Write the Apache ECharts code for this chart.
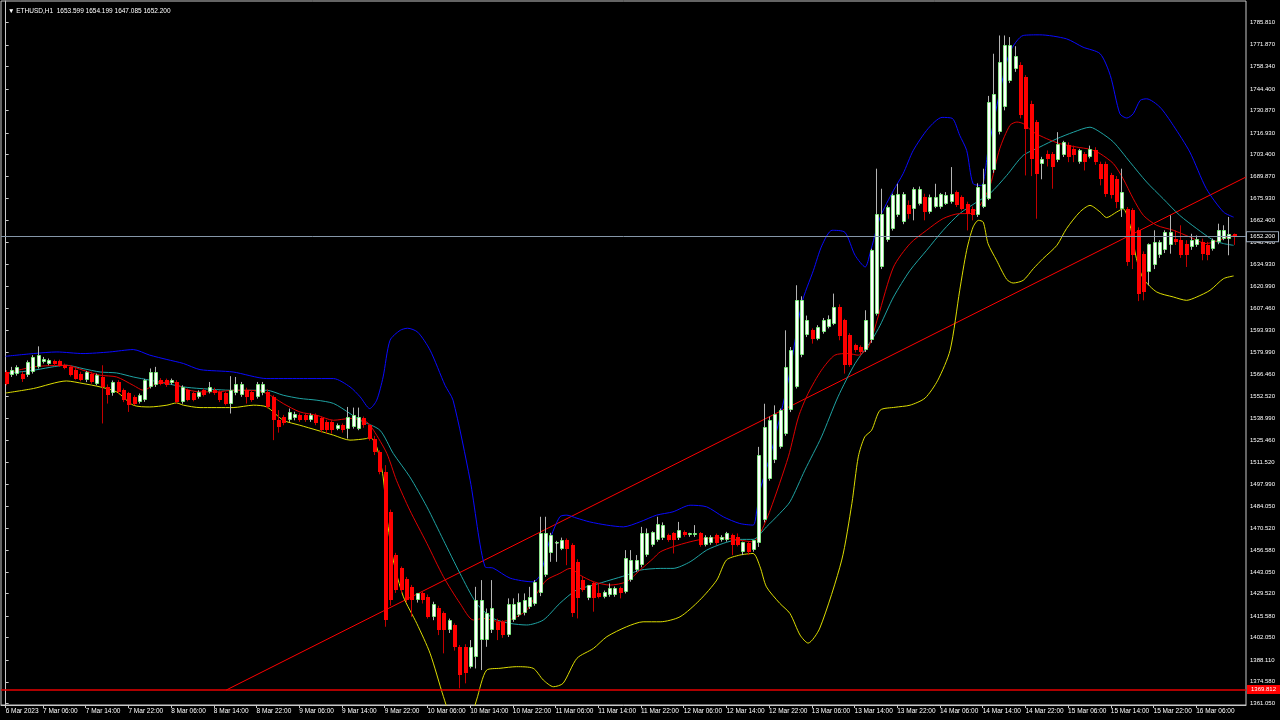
<!DOCTYPE html>
<html>
<head>
<meta charset="utf-8">
<script src="https://cdn.jsdelivr.net/npm/echarts@6/dist/echarts.min.js"></script>
<style>
html,body{margin:0;padding:0;background:#000;}
#chart{width:1280px;height:720px;}
</style>
</head>
<body>
<div id="chart"></div>
<script>
// ---------- DATA ----------
const titleText = '\u25BC ETHUSD,H1  1653.599 1654.199 1647.085 1652.200';

const xTickIndex = [0,7,15,23,31,39,47,55,63,71,79,87,95,103,111,119,127,135,143,151,159,167,175,183,191,199,207,215,223];
const xTickLabels = ['6 Mar 2023','7 Mar 06:00','7 Mar 14:00','7 Mar 22:00','8 Mar 06:00','8 Mar 14:00','8 Mar 22:00',
  '9 Mar 06:00','9 Mar 14:00','9 Mar 22:00','10 Mar 06:00','10 Mar 14:00','10 Mar 22:00','11 Mar 06:00','11 Mar 14:00',
  '11 Mar 22:00','12 Mar 06:00','12 Mar 14:00','12 Mar 22:00','13 Mar 06:00','13 Mar 14:00','13 Mar 22:00','14 Mar 06:00',
  '14 Mar 14:00','14 Mar 22:00','15 Mar 06:00','15 Mar 14:00','15 Mar 22:00','16 Mar 06:00'];

const yTickValues = [1361.05,1374.58,1388.11,1402.05,1415.58,1429.52,1443.05,1456.58,1470.52,1484.05,1497.99,1511.52,
  1525.46,1538.99,1552.52,1566.46,1579.99,1593.93,1607.46,1620.99,1634.93,1648.46,1662.40,1675.93,1689.87,1703.40,
  1716.93,1730.87,1744.40,1758.34,1771.87,1785.81];

// hourly bars: [open, high, low, close]
const candles = [
[1567.9,1569.0,1559.5,1560.6],[1565.8,1571.0,1564.7,1568.9],[1566.8,1572.0,1565.5,1571.0],[1566.8,1568.0,1561.6,1563.7],
[1565.8,1575.0,1564.7,1574.1],[1567.9,1578.3,1566.8,1577.2],[1571.0,1583.8,1570.0,1578.3],[1574.1,1577.2,1573.1,1576.2],
[1573.1,1576.2,1572.0,1575.5],[1574.7,1575.5,1572.0,1572.6],[1574.7,1575.5,1571.0,1571.4],[1572.0,1573.0,1569.5,1570.0],
[1571.0,1572.0,1565.0,1565.8],[1569.3,1570.5,1563.0,1563.7],[1566.8,1568.0,1562.0,1562.7],[1562.7,1568.5,1561.5,1567.9],
[1566.8,1568.0,1560.5,1561.6],[1560.6,1566.8,1559.5,1565.8],[1564.7,1572.0,1535.7,1558.5],[1558.5,1560.0,1548.1,1553.3],
[1554.4,1562.5,1553.0,1561.6],[1561.6,1562.7,1554.0,1555.4],[1556.4,1557.5,1549.0,1550.2],[1554.4,1555.4,1542.9,1547.1],
[1552.3,1553.3,1547.0,1548.1],[1549.2,1554.4,1548.1,1553.3],[1550.2,1563.5,1549.2,1562.7],[1558.5,1570.0,1557.5,1567.9],
[1559.5,1571.0,1558.5,1567.9],[1562.7,1564.0,1559.5,1560.6],[1562.7,1563.7,1558.5,1559.5],[1561.0,1563.7,1560.0,1562.7],
[1561.6,1562.7,1548.1,1549.2],[1549.2,1559.5,1548.0,1558.5],[1556.4,1557.5,1549.5,1550.2],[1554.4,1555.4,1549.5,1550.2],
[1552.3,1556.4,1551.2,1555.4],[1556.4,1557.5,1552.5,1553.3],[1555.4,1561.6,1554.4,1558.5],[1556.4,1558.0,1553.5,1554.4],
[1555.4,1556.4,1549.0,1550.2],[1554.4,1555.4,1547.0,1548.1],[1548.1,1565.2,1541.9,1556.4],[1554.4,1564.7,1553.3,1560.6],
[1553.3,1561.6,1552.3,1560.6],[1556.4,1558.0,1548.1,1552.3],[1555.4,1556.4,1549.2,1550.2],[1552.3,1561.6,1551.2,1560.6],
[1554.4,1561.6,1553.3,1560.6],[1555.4,1557.0,1545.0,1546.0],[1552.3,1553.3,1525.3,1537.7],[1537.7,1544.0,1530.0,1533.6],
[1539.8,1541.0,1534.6,1535.7],[1537.7,1545.0,1536.7,1542.9],[1538.8,1543.0,1537.7,1541.9],[1540.9,1542.0,1536.7,1537.7],
[1540.9,1542.0,1536.7,1537.7],[1537.7,1542.0,1536.7,1540.9],[1540.9,1542.0,1534.6,1535.7],[1538.8,1540.0,1530.0,1531.5],
[1536.7,1538.0,1529.4,1531.5],[1536.7,1537.7,1529.4,1531.5],[1532.5,1535.7,1531.5,1534.6],[1534.6,1535.7,1530.0,1531.5],
[1532.5,1546.0,1526.3,1539.8],[1533.6,1545.6,1532.5,1540.9],[1532.5,1545.6,1531.5,1539.8],[1538.8,1540.0,1533.0,1534.6],
[1534.6,1535.5,1525.0,1526.3],[1526.3,1528.0,1516.0,1518.0],[1518.0,1519.0,1504.0,1505.5],[1505.5,1509.7,1408.9,1413.1],
[1480.6,1482.0,1422.0,1425.5],[1453.6,1455.0,1430.0,1431.8],[1445.3,1446.5,1429.7,1431.8],[1439.0,1440.0,1424.0,1425.5],
[1433.8,1435.0,1415.1,1425.5],[1425.5,1430.0,1424.0,1429.7],[1429.7,1431.0,1423.4,1425.5],[1427.6,1429.0,1414.0,1415.1],
[1415.1,1424.5,1413.0,1423.4],[1420.3,1422.0,1403.7,1406.8],[1417.2,1418.5,1392.3,1406.8],[1406.8,1414.0,1405.0,1413.1],
[1409.9,1411.0,1394.0,1396.4],[1396.4,1397.5,1370.5,1378.8],[1396.4,1398.0,1373.6,1379.8],[1384.0,1400.6,1382.9,1396.4],
[1390.2,1433.8,1382.9,1425.5],[1400.6,1438.0,1381.9,1425.5],[1400.6,1420.3,1396.4,1417.2],[1406.8,1438.0,1405.0,1420.3],
[1412.0,1414.0,1400.6,1406.8],[1412.0,1413.0,1402.0,1403.7],[1403.7,1426.6,1402.5,1423.4],[1413.1,1426.6,1412.0,1423.4],
[1416.2,1429.7,1415.0,1424.5],[1417.2,1429.7,1416.0,1425.5],[1421.4,1433.8,1420.0,1427.6],[1423.4,1438.0,1422.0,1437.0],
[1429.7,1477.5,1428.0,1467.1],[1441.1,1477.5,1440.0,1467.1],[1454.6,1467.5,1449.4,1466.0],[1460.9,1462.5,1449.4,1461.9],
[1457.7,1464.5,1456.7,1463.3],[1462.9,1464.0,1447.3,1457.7],[1459.8,1461.0,1415.0,1417.2],[1449.4,1451.0,1414.1,1426.6],
[1438.0,1440.0,1430.7,1431.8],[1426.6,1435.0,1425.5,1434.9],[1435.9,1437.0,1418.3,1426.6],[1429.7,1435.9,1426.6,1427.6],
[1427.6,1431.5,1426.6,1430.7],[1428.6,1435.9,1427.6,1432.8],[1428.6,1434.0,1427.6,1432.8],[1432.8,1434.0,1426.6,1429.7],
[1430.7,1456.7,1429.7,1451.5],[1438.0,1456.7,1437.0,1450.5],[1444.2,1453.6,1443.0,1450.5],[1447.3,1471.2,1446.0,1467.1],
[1453.6,1470.2,1452.5,1467.1],[1459.8,1468.5,1458.8,1468.1],[1462.9,1477.5,1461.9,1473.3],[1464.0,1474.0,1463.0,1472.5],
[1466.0,1467.0,1461.9,1462.9],[1467.1,1468.0,1454.6,1462.9],[1464.0,1474.3,1463.0,1469.2],[1468.1,1469.0,1465.0,1466.0],
[1466.0,1467.5,1465.0,1467.1],[1466.0,1472.3,1465.0,1467.1],[1467.1,1468.0,1458.8,1459.8],[1459.8,1466.0,1459.0,1465.0],
[1460.9,1466.0,1460.0,1465.0],[1466.0,1467.0,1460.0,1460.9],[1462.9,1466.0,1462.0,1465.0],[1462.9,1468.1,1462.0,1467.1],
[1466.0,1467.0,1453.6,1459.8],[1465.0,1467.1,1459.0,1459.8],[1455.7,1462.0,1453.6,1461.9],[1460.9,1462.0,1453.6,1455.7],
[1456.7,1463.0,1455.7,1462.9],[1460.9,1521.1,1458.7,1515.9],[1475.4,1548.0,1474.0,1533.5],[1501.3,1540.0,1500.0,1537.7],
[1512.8,1547.0,1511.0,1541.8],[1521.1,1545.0,1520.0,1543.9],[1529.4,1593.8,1528.0,1571.1],[1543.9,1583.4,1542.8,1581.3],
[1558.5,1621.9,1557.5,1612.5],[1578.2,1615.0,1577.0,1612.5],[1590.7,1603.0,1589.6,1600.0],[1593.8,1595.0,1585.5,1588.6],
[1588.6,1597.0,1587.6,1595.9],[1592.8,1601.5,1591.7,1600.0],[1595.9,1603.1,1595.0,1601.1],[1598.0,1616.7,1597.0,1608.3],
[1608.3,1610.0,1587.6,1590.0],[1600.0,1601.0,1566.8,1572.0],[1590.7,1592.0,1571.0,1572.0],[1584.4,1585.5,1580.0,1581.3],
[1583.4,1584.4,1578.0,1580.3],[1581.3,1606.3,1580.3,1600.0],[1587.6,1644.7,1586.0,1643.7],[1604.2,1694.6,1603.0,1666.5],
[1633.3,1682.1,1632.0,1666.5],[1649.9,1671.7,1649.0,1670.7],[1657.2,1679.0,1656.0,1678.0],[1665.5,1685.2,1664.5,1679.0],
[1661.3,1680.0,1660.0,1679.0],[1671.7,1674.8,1663.4,1666.5],[1669.6,1683.0,1662.4,1682.1],[1672.8,1683.5,1671.7,1682.1],
[1676.9,1679.0,1662.4,1667.6],[1667.6,1678.5,1666.5,1676.9],[1670.7,1685.2,1670.0,1676.9],[1670.7,1679.5,1669.6,1679.0],
[1672.8,1680.0,1672.0,1678.0],[1673.8,1695.6,1672.8,1679.0],[1680.0,1681.0,1670.7,1671.7],[1676.9,1678.0,1668.6,1669.6],
[1672.8,1674.0,1656.1,1666.5],[1669.6,1671.0,1662.4,1665.5],[1665.5,1685.5,1664.5,1683.1],[1670.7,1694.6,1670.0,1685.2],
[1676.0,1740.0,1675.0,1736.2],[1693.5,1766.3,1692.0,1741.3],[1717.4,1777.7,1716.0,1761.1],[1733.0,1777.7,1731.0,1771.5],
[1749.6,1776.7,1748.0,1771.5],[1756.9,1771.0,1755.0,1765.2],[1759.0,1761.0,1726.0,1727.8],[1751.8,1753.0,1690.4,1719.5],
[1735.1,1737.0,1690.0,1700.8],[1723.7,1725.0,1663.4,1691.5],[1697.7,1702.0,1688.0,1700.8],[1703.9,1706.0,1696.0,1700.8],
[1703.9,1705.0,1682.1,1695.6],[1699.8,1717.4,1698.7,1710.2],[1702.9,1712.0,1701.9,1711.2],[1709.1,1711.0,1698.7,1701.9],
[1707.0,1709.0,1698.7,1702.9],[1698.7,1707.0,1697.7,1706.0],[1703.9,1705.0,1693.5,1698.7],[1701.9,1709.0,1701.0,1707.0],
[1706.0,1708.0,1697.0,1698.7],[1697.7,1699.0,1684.2,1688.4],[1697.7,1699.0,1677.0,1679.0],[1690.4,1692.0,1676.0,1678.0],
[1688.4,1690.0,1670.0,1673.8],[1669.7,1694.6,1664.5,1680.1],[1669.7,1670.7,1634.0,1636.4],[1668.6,1670.0,1632.0,1640.6],
[1656.2,1658.0,1612.0,1616.7],[1641.6,1643.0,1612.5,1617.7],[1630.2,1648.0,1621.9,1647.8],[1634.4,1656.2,1632.0,1648.9],
[1640.6,1650.0,1639.0,1648.9],[1643.7,1656.2,1642.0,1655.1],[1646.8,1665.5,1641.6,1655.1],[1651.0,1656.0,1647.0,1648.9],
[1649.9,1659.3,1639.0,1640.6],[1647.8,1650.0,1633.3,1640.6],[1645.8,1654.0,1644.0,1649.9],[1646.8,1653.0,1645.8,1651.0],
[1648.9,1651.0,1637.5,1641.6],[1646.8,1649.0,1637.5,1640.6],[1644.7,1651.0,1643.5,1649.9],[1648.9,1660.3,1647.5,1656.2],
[1651.0,1659.3,1650.0,1656.2],[1651.0,1664.5,1640.6,1654.1],[1653.599,1654.199,1647.085,1652.2]
];

// indicator lines: [bar index, price]
const upperBand = [[0,1577.6],[5.2,1579.3],[9.6,1580.3],[14.5,1579.3],[19.5,1580.3],[23.9,1581.8],[27,1578.3],[30.2,1575.6],
[33.3,1573.1],[36.4,1569.3],[42.6,1567.8],[48.9,1563.7],[55.1,1563.7],[61.4,1563.7],[64.5,1558.5],[66.4,1552.3],[68.2,1545.0],
[69.5,1550.2],[70.7,1564.7],[72,1587.6],[73.9,1593.8],[75.3,1595.1],[77.2,1592.6],[79.5,1581.4],[82.3,1559.5],[83.8,1550.2],
[87,1500.3],[89.8,1446.3],[91.3,1445.5],[94.5,1439.2],[98.8,1436.9],[100.1,1441.1],[101.9,1462.9],[103.8,1477.5],[105.1,1478.5],
[107,1476.6],[109.4,1474.3],[112.6,1472.3],[115.7,1471.2],[118.8,1474.3],[121.9,1478.5],[125,1480.6],[128.2,1484.7],[131.3,1483.7],
[134.4,1477.5],[137.5,1473.3],[140,1472.3],[140.7,1481.6],[141.3,1494.1],[143.5,1519.0],[146.6,1562.7],[149.1,1610.5],[151.3,1631.2],
[152.9,1646.8],[154.8,1656.2],[157.2,1654.9],[159.1,1640.6],[161,1633.3],[161.9,1641.8],[163.8,1664.4],[166.3,1681.1],[168.1,1691.5],
[170,1706.0],[172.8,1719.7],[175.4,1726.6],[177.3,1726.0],[178.7,1715.4],[180,1706.0],[181.2,1685.3],[182.8,1684.2],[184,1706.0],
[186.2,1742.4],[188.1,1767.3],[190.6,1777.7],[193.7,1778.1],[198.7,1775.6],[201.8,1770.4],[205,1766.3],[206.9,1752.8],[208.7,1728.9],
[210,1726.2],[211.2,1728.9],[212.5,1737.2],[213.7,1738.2],[216.2,1733.0],[218.7,1721.6],[221.8,1705.0],[224.9,1682.1],[228.1,1667.6],
[230,1664.4]];

const middleBand = [[0,1566.8],[5.2,1568.9],[11.4,1572.0],[14.5,1569.9],[17.7,1567.8],[20.8,1567.2],[23.9,1564.7],[27,1562.7],
[30.2,1560.6],[33.3,1558.5],[36.4,1557.5],[42.6,1556.4],[48.9,1556.4],[52,1553.3],[55.1,1551.3],[58.3,1550.2],[61.4,1548.2],
[64.5,1541.9],[66.4,1537.7],[70.1,1531.5],[72.6,1517.0],[75.7,1502.4],[78.9,1483.7],[82,1462.9],[85.1,1442.2],[88.2,1423.5],
[91.3,1414.1],[94.5,1411.0],[97.6,1410.0],[100.7,1413.1],[103.8,1423.5],[106.9,1431.8],[110.1,1434.9],[113.2,1438.0],[116.3,1441.1],
[118.8,1444.2],[122.6,1445.3],[125,1445.3],[128.2,1449.4],[131.3,1456.7],[134.4,1460.9],[137.5,1463.4],[140,1463.4],[142.5,1471.2],
[145,1479.6],[146.9,1486.8],[149.7,1506.6],[152.8,1527.3],[155.9,1552.3],[159.1,1573.1],[162.2,1587.6],[163.8,1597.0],[166.3,1614.6],
[169.4,1631.2],[172.5,1643.7],[175.6,1656.2],[178.7,1666.6],[181.9,1673.8],[184.4,1679.2],[187.5,1690.4],[190.6,1702.9],[193.7,1708.1],
[196.9,1713.3],[200,1717.4],[203.1,1720.5],[205,1717.4],[207.5,1711.2],[210.6,1698.7],[213.7,1686.3],[216.8,1675.9],[219.9,1665.5],
[223.1,1657.2],[226.2,1650.0],[228.1,1647.9],[230,1646.8]];

const lowerBand = [[0,1554.7],[5.2,1557.5],[11.4,1562.2],[14.5,1560.6],[17.7,1558.5],[20.8,1555.4],[23.9,1547.1],[27,1546.0],
[30.2,1547.1],[32,1548.5],[33.3,1547.1],[36.4,1545.6],[42.6,1545.6],[46.4,1547.1],[48.9,1546.0],[52,1537.7],[55.1,1534.6],
[58.3,1531.5],[61.4,1528.4],[64.5,1525.3],[67.6,1526.3],[68.2,1527.3],[69.5,1521.1],[70.7,1502.4],[71.4,1477.5],[72.6,1450.5],
[74.5,1427.6],[77,1411.0],[79.5,1392.3],[82,1365.3],[84.2,1344.5],[86,1341.4],[88.2,1363.2],[90.1,1381.9],[92.6,1383.0],
[95.7,1384.0],[98.8,1383.0],[100.7,1375.7],[102.6,1371.5],[104.4,1373.6],[107,1389.2],[110.1,1395.4],[112.6,1402.7],[116.3,1408.9],
[119.4,1412.0],[122.6,1412.0],[126.3,1415.1],[130,1425.5],[133.2,1438.0],[135,1450.5],[137.5,1453.6],[140,1454.6],[141.3,1446.3],
[142.5,1433.8],[145,1423.5],[146.9,1417.2],[148.8,1403.7],[150.3,1398.7],[152.5,1408.1],[156.6,1450.5],[158.5,1485.8],[159.7,1514.9],
[160.9,1527.3],[162.2,1531.5],[163.8,1544.0],[166.6,1545.8],[169.4,1547.1],[172.2,1551.5],[174.6,1562.7],[176.9,1581.4],[178.7,1618.8],
[180,1643.7],[181.2,1658.2],[182.2,1662.4],[183.1,1661.3],[184,1647.9],[185.6,1637.5],[187.5,1625.6],[188.7,1623.3],[190.6,1625.0],
[192.5,1632.3],[194.3,1638.5],[196.9,1646.8],[198.7,1657.2],[201.2,1667.6],[203.1,1671.7],[205,1667.6],[206.2,1664.1],[208.1,1667.6],
[209.3,1669.7],[210.6,1659.3],[211.8,1638.5],[213.1,1626.0],[215.6,1617.7],[218.7,1614.6],[221.2,1612.5],[223.1,1614.6],[225.6,1618.8],
[228.1,1626.0],[230,1627.7]];

const fastMA = [[0,1566.8],[5.2,1571.0],[11.4,1572.0],[14.5,1568.9],[17.7,1565.8],[20.8,1564.7],[23.9,1559.5],[25.8,1556.4],
[28.3,1560.6],[31.4,1561.6],[33.3,1557.5],[36.4,1555.4],[39.5,1555.4],[42.6,1556.4],[45.8,1556.4],[48.9,1554.4],[52,1548.1],
[55.1,1542.9],[58.3,1540.8],[61.4,1537.7],[64.5,1538.8],[67.6,1536.7],[68.9,1531.5],[71.4,1517.0],[73.2,1500.3],[75.7,1481.6],
[78.9,1460.9],[82,1440.1],[85.1,1423.5],[87.6,1413.1],[89.5,1414.1],[92.6,1412.0],[95.1,1414.1],[97.6,1419.3],[99.5,1429.7],
[101.3,1438.0],[103.8,1442.2],[105.7,1445.3],[107.6,1441.1],[110.1,1437.0],[113.2,1434.9],[116.3,1437.0],[118.8,1444.2],[121.3,1451.5],
[122.6,1455.6],[125,1458.8],[128.2,1461.9],[131.3,1464.0],[134.4,1464.4],[137.5,1462.9],[140,1461.9],[141.3,1467.1],[143.2,1481.6],
[146.6,1514.9],[148.5,1539.8],[150.3,1554.4],[152.8,1568.9],[155.3,1578.3],[157.8,1579.3],[159.7,1578.3],[161.6,1583.4],[163.4,1602.1],
[166.3,1633.3],[169.4,1647.9],[172.5,1656.2],[175.6,1663.5],[178.7,1666.6],[180.6,1666.6],[182.5,1671.7],[184.4,1684.2],[186.2,1707.1],
[188.1,1721.6],[189.4,1723.7],[190.6,1722.7],[192.5,1717.4],[195,1713.3],[197.5,1710.2],[200.6,1708.1],[203.1,1706.7],[205,1704.0],
[207.5,1697.7],[209.3,1688.4],[211.2,1675.9],[213.1,1665.5],[215.6,1659.3],[218.7,1656.2],[221.8,1652.0],[224.9,1647.9],[228.1,1651.0],
[230,1653.0]];

const trendLine = [[41.3,1369.4],[232.3,1689.4]];
const supportLevel = 1369.812;
const lastPrice = 1652.2;

// ---------- CHART ----------
const FONT = "'Liberation Sans',Arial,sans-serif";
const chart = echarts.init(document.getElementById('chart'), null, {renderer: 'canvas'});

const candleData = candles.map((r, i) => [i, r[0], r[1], r[2], r[3]]);

function renderCandle(params, api) {
  const i = api.value(0), o = api.value(1), h = api.value(2), l = api.value(3), c = api.value(4);
  const pO = api.coord([i, o]);
  const pC = api.coord([i, c]);
  const pH = api.coord([i, Math.max(h, o, c)]);
  const pL = api.coord([i, Math.min(l, o, c)]);
  const bull = c >= o;
  const x = Math.round(pO[0]);
  const top = Math.round(Math.min(pO[1], pC[1]));
  const bot = Math.round(Math.max(pO[1], pC[1]));
  const hgt = Math.max(bot - top, 1);
  const children = [
    {type: 'line', shape: {x1: x + 0.5, y1: pH[1], x2: x + 0.5, y2: pL[1]},
     style: {stroke: bull ? '#b4b4b4' : '#c40000', lineWidth: 1}}
  ];
  if (bull) {
    children.push({type: 'rect', shape: {x: x - 1, y: top, width: 4, height: hgt},
                   style: {fill: '#1ec81e'}});
    children.push({type: 'rect', shape: {x: x - 0.5, y: top + 0.5, width: 3, height: Math.max(hgt - 1, 1)},
                   style: {fill: '#ffffff'}});
  } else {
    children.push({type: 'rect', shape: {x: x - 1, y: top, width: 4, height: hgt},
                   style: {fill: '#ff0000'}});
  }
  return {type: 'group', children};
}

function lineSeries(name, data, color) {
  return {
    name, type: 'line', data, showSymbol: false, smooth: 0.25, silent: true,
    lineStyle: {color, width: 1}, z: 3, clip: true
  };
}

const option = {
  backgroundColor: '#000000',
  animation: false,
  title: {
    text: titleText, left: 3, top: 3,
    textStyle: {color: '#ffffff', fontSize: 6.5, fontWeight: 'normal', fontFamily: FONT}
  },
  grid: {left: 1, right: 34, top: 1, bottom: 15, show: true, borderColor: '#c8c8c8', borderWidth: 1,
         backgroundColor: 'transparent', containLabel: false, outerBoundsMode: 'none'},
  xAxis: {
    type: 'value', min: -0.87, max: 232.32,
    splitLine: {show: false},
    axisLine: {show: true, lineStyle: {color: '#c8c8c8'}},
    axisTick: {show: true, customValues: xTickIndex, length: 3, lineStyle: {color: '#c8c8c8'}},
    axisLabel: {
      customValues: xTickIndex, color: '#ffffff', fontSize: 6.5, fontFamily: FONT, margin: 3, align: 'left',
      hideOverlap: false,
      formatter: v => { const k = xTickIndex.indexOf(Math.round(v)); return k >= 0 ? xTickLabels[k] : ''; }
    }
  },
  yAxis: {
    type: 'value', position: 'right', min: 1360.1, max: 1799.2, scale: true,
    splitLine: {show: false},
    axisLine: {show: true, lineStyle: {color: '#c8c8c8'}},
    axisTick: {show: true, customValues: yTickValues, length: 3, lineStyle: {color: '#c8c8c8'}},
    axisLabel: {
      customValues: yTickValues, color: '#ffffff', fontSize: 6, fontFamily: FONT, margin: 4,
      hideOverlap: false,
      formatter: v => v.toFixed(3)
    }
  },
  series: [
    lineSeries('upper', upperBand, '#0a0aff'),
    lineSeries('lower', lowerBand, '#dcdc00'),
    lineSeries('middle', middleBand, '#1fa3a3'),
    lineSeries('fast', fastMA, '#e00000'),
    {
      name: 'trend', type: 'line', data: trendLine, showSymbol: false, silent: true, z: 2,
      lineStyle: {color: '#ff0000', width: 1},
      markLine: {
        silent: true, symbol: 'none', animation: false,
        data: [
          {yAxis: supportLevel, lineStyle: {color: '#e80000', width: 1.5, type: 'solid'},
           label: {show: true, position: 'end', distance: 1, formatter: '1369.812', color: '#ffffff',
                   backgroundColor: '#ff0000', fontSize: 6, fontFamily: FONT, padding: [2, 4, 1, 4]}},
          {yAxis: lastPrice, lineStyle: {color: '#8596a8', width: 1, type: 'solid'},
           label: {show: true, position: 'end', distance: 1, formatter: '1652.200', color: '#ffffff',
                   backgroundColor: '#000000', borderColor: '#9aa8b8', borderWidth: 1,
                   fontSize: 6, fontFamily: FONT, padding: [2, 3, 1, 3]}}
        ]
      }
    },
    {
      name: 'ETHUSD', type: 'custom', renderItem: renderCandle, data: candleData,
      encode: {x: 0, y: [1, 2, 3, 4]}, z: 4, clip: true
    }
  ]
};
chart.setOption(option);
</script>
</body>
</html>
